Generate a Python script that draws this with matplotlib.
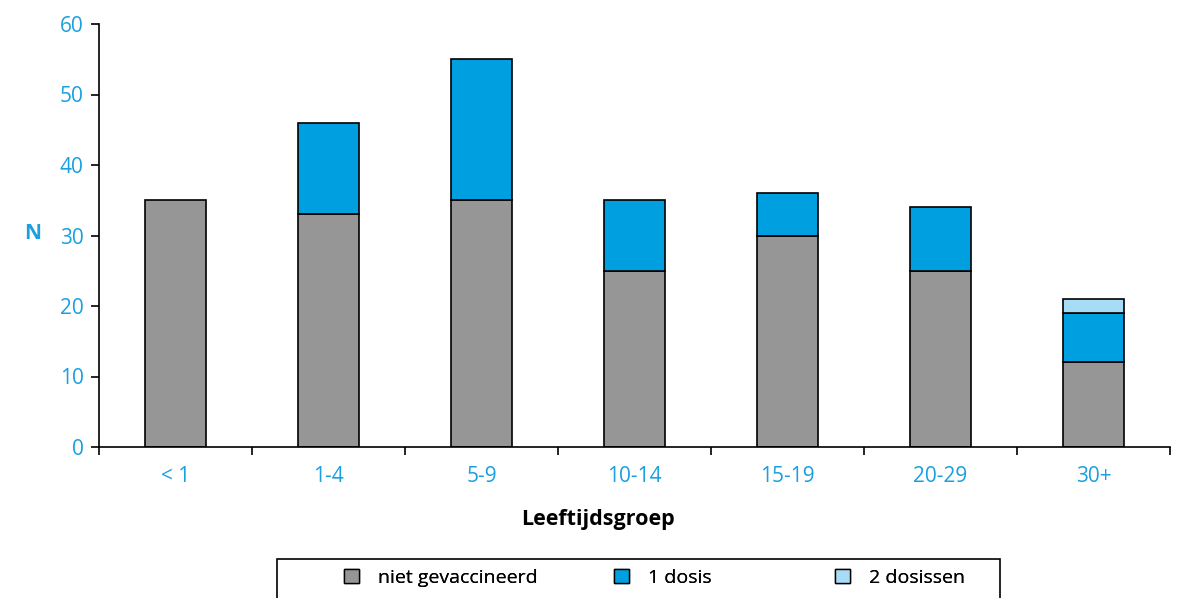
import numpy as np
import matplotlib
matplotlib.use('Agg')
import matplotlib.pyplot as plt
from matplotlib.patches import Rectangle

plt.rcParams['font.family'] = ['Open Sans', 'DejaVu Sans']

# data
groepen = ['< 1', '1-4', '5-9', '10-14', '15-19', '20-29', '30+']
niet_gevaccineerd = [35, 33, 35, 25, 30, 25, 12]
een_dosis = [0, 13, 20, 10, 6, 9, 7]
twee_dosissen = [0, 0, 0, 0, 0, 0, 2]

blauw = '#1a9fe0'
W, H = 1179, 598
fig = plt.figure(figsize=(W / 100, H / 100), dpi=100)
ax = fig.add_axes([99 / W, 1 - 447 / H, (1170 - 99) / W, (447 - 24) / H])

x = np.arange(len(groepen))
w = 0.405
kw = dict(width=w, edgecolor='black', linewidth=1.2)
b1 = ax.bar(x, niet_gevaccineerd, color='#969696', label='niet gevaccineerd', **kw)
onder = np.array(niet_gevaccineerd)
mask1 = np.array(een_dosis) > 0
b2 = ax.bar(x[mask1], np.array(een_dosis)[mask1], bottom=onder[mask1], color='#009fe0', label='1 dosis', **kw)
onder = onder + np.array(een_dosis)
mask2 = np.array(twee_dosissen) > 0
b3 = ax.bar(x[mask2], np.array(twee_dosissen)[mask2], bottom=onder[mask2], color='#a6dcf5', label='2 dosissen', **kw)

ax.set_xlim(-0.5, len(groepen) - 0.5)
ax.set_ylim(0, 60)
ax.set_yticks(range(0, 61, 10))
ax.set_xticks(x)
ax.set_xticklabels(groepen)
ax.set_xticks(np.arange(-0.5, len(groepen)), minor=True)
ax.tick_params(axis='x', which='major', length=0, pad=14, labelcolor=blauw, labelsize=15)
ax.tick_params(axis='x', which='minor', length=6, width=1.2, direction='out')
ax.tick_params(axis='y', length=6, width=1.2, direction='out', labelcolor=blauw, labelsize=15, pad=5)

for s in ['top', 'right']:
    ax.spines[s].set_visible(False)
ax.spines['left'].set_linewidth(1.2)
ax.spines['bottom'].set_linewidth(1.2)

fig.text(33 / W, 1 - 233 / H, 'N', color=blauw, fontsize=15, fontweight='bold', ha='center', va='center')
fig.text(598 / W, 1 - 520 / H, 'Leeftijdsgroep', fontsize=15.5, fontweight='bold', ha='center', va='center')

# legendakader
fig.patches.append(Rectangle((277 / W, -0.05), (1000 - 277) / W, 0.05 + 1 - 559 / H,
                             transform=fig.transFigure, fill=False, edgecolor='black', linewidth=1.2))
for h, xh in zip([b1, b2, b3], [352, 622, 843]):
    leg = fig.legend(handles=[h], loc='center left', bbox_to_anchor=((xh - 8) / W, 1 - 578 / H),
                     fontsize=14, frameon=False, handlelength=0.75, handleheight=0.75,
                     handletextpad=1.0, borderpad=0, borderaxespad=0)
    for lh in leg.legend_handles:
        lh.set_linewidth(1.0)
    fig.add_artist(leg)

fig.savefig('out.png', dpi=100)
